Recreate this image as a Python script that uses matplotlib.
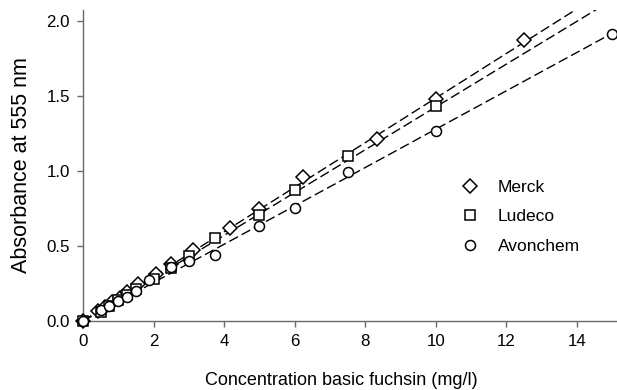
import matplotlib
matplotlib.use("Agg")
import matplotlib.pyplot as plt
import numpy as np

plt.rcParams['font.family'] = ['Liberation Sans', 'DejaVu Sans']

merck_x = [0, 0.42, 0.625, 0.83, 1.04, 1.25, 1.56, 2.08, 2.5, 3.125, 4.17, 5, 6.25, 8.33, 10, 12.5]
merck_y = [0, 0.065, 0.09, 0.125, 0.155, 0.19, 0.245, 0.31, 0.38, 0.475, 0.62, 0.745, 0.96, 1.21, 1.48, 1.87]

ludeco_x = [0, 0.5, 0.75, 1, 1.25, 1.5, 2, 2.5, 3, 3.75, 5, 6, 7.5, 10]
ludeco_y = [0, 0.06, 0.10, 0.14, 0.17, 0.21, 0.28, 0.35, 0.43, 0.55, 0.705, 0.875, 1.10, 1.43]

avon_x = [0, 0.5, 0.75, 1, 1.25, 1.5, 1.875, 2.5, 3, 3.75, 5, 6, 7.5, 10, 15]
avon_y = [0, 0.07, 0.10, 0.13, 0.16, 0.20, 0.27, 0.36, 0.40, 0.44, 0.63, 0.75, 0.99, 1.265, 1.91]

# regression slopes (through origin)
slope_merck = 0.1484
slope_ludeco = 0.1425
slope_avon = 0.1277

xticks = [0, 2, 4, 6, 8, 10, 12, 14]
yticks = [0.0, 0.5, 1.0, 1.5, 2.0]

fig = plt.figure(figsize=(6.17, 3.90), dpi=100)
ax = fig.add_axes([0.1345, 0.177, 0.8655, 0.797])
xmax, ymax = 15.14, 2.07
ax.set_xlim(0, xmax)
ax.set_ylim(0, ymax)

xl = np.array([0, xmax])
for s in (slope_merck, slope_ludeco, slope_avon):
    ax.plot(xl, s * xl, color='black', lw=1.0, dashes=(7, 3), zorder=2)

mk = dict(linestyle='none', markerfacecolor='white', markeredgecolor='black',
          markeredgewidth=1.1, clip_on=False, zorder=3)
ax.plot(merck_x, merck_y, marker='D', markersize=6.8, label='Merck', **mk)
ax.plot(ludeco_x, ludeco_y, marker='s', markersize=6.7, label='Ludeco', **mk)
ax.plot(avon_x, avon_y, marker='o', markersize=7.2, label='Avonchem', **mk)

for sp in ('top', 'right'):
    ax.spines[sp].set_visible(False)
for sp in ('left', 'bottom'):
    ax.spines[sp].set_color('#6a6a6a')
    ax.spines[sp].set_linewidth(1.0)

ax.set_xticks(xticks)
ax.set_xticklabels([str(t) for t in xticks])
ax.set_yticks(yticks)
ax.set_yticklabels([f"{t:.1f}" for t in yticks])
ax.tick_params(direction='out', length=4.5, width=1.0, color='#6a6a6a', labelsize=12.2, pad=5)

ax.set_xlabel('Concentration basic fuchsin (mg/l)', fontsize=13)
ax.xaxis.set_label_coords(0.484, -0.163)
ax.set_ylabel('Absorbance at 555 nm', fontsize=15.5, labelpad=10)

leg = ax.legend(loc='center left', bbox_to_anchor=(0.705, 0.335), frameon=False,
                fontsize=12.5, handletextpad=1.0, labelspacing=0.82, handlelength=1.2,
                borderpad=0, borderaxespad=0)

fig.savefig('out.png', dpi=100)
